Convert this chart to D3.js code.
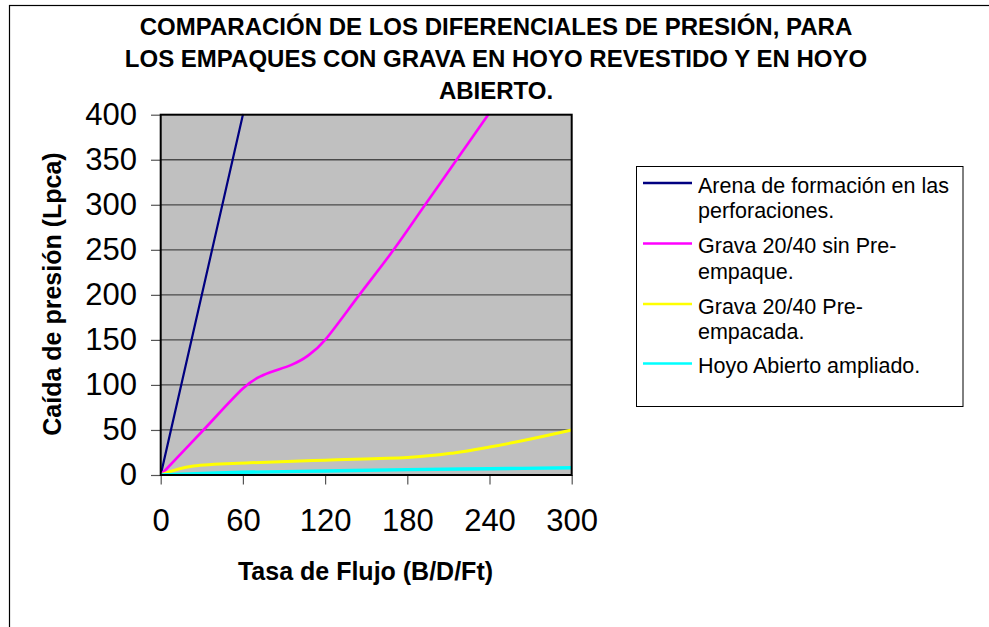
<!DOCTYPE html>
<html>
<head>
<meta charset="utf-8">
<script src="https://cdn.jsdelivr.net/npm/d3@7"></script>
<style>
  html, body { margin: 0; padding: 0; background: #fff; }
  svg { display: block; font-family: "Liberation Sans", Arial, sans-serif; }
</style>
</head>
<body>
<svg id="chart" width="989" height="627"></svg>
<script>
// Title lines
const titleLines = [
  "COMPARACIÓN DE LOS DIFERENCIALES DE PRESIÓN, PARA",
  "LOS EMPAQUES CON GRAVA EN HOYO REVESTIDO Y EN HOYO",
  "ABIERTO."
];

// Axis ticks and titles
const xTicks = [0, 60, 120, 180, 240, 300];
const yTicks = [0, 50, 100, 150, 200, 250, 300, 350, 400];
const xTitle = "Tasa de Flujo (B/D/Ft)";
const yTitle = "Caída de presión (Lpca)";

// Series (flow rate in B/D/Ft, pressure drop in Lpca)
const arenaX = [0, 60];
const arenaY = [0, 400];

const gravaSinX = [0, 30, 60, 75, 95, 107, 120, 145, 170, 193, 216, 239];
const gravaSinY = [0, 48, 96, 111, 122, 132, 150, 200, 250, 300, 350, 400];

const gravaPreX = [0, 24, 65, 120, 180, 214, 240, 270, 300];
const gravaPreY = [0, 10, 13.5, 16.5, 19.5, 24.5, 31, 40, 50];

const hoyoX = [0, 60, 120, 180, 240, 300];
const hoyoY = [0, 3, 4.5, 6, 7, 8];

const seriesNames = [
  ["Arena de formación en las", "perforaciones."],
  ["Grava 20/40 sin Pre-", "empaque."],
  ["Grava 20/40 Pre-", "empacada."],
  ["Hoyo Abierto ampliado."]
];
const seriesColors = ["#000080", "#FF00FF", "#FFFF00", "#00FFFF"];
const seriesWidths = [2.2, 2.6, 3, 3.4];

const series = [
  arenaX.map((x, i) => [x, arenaY[i]]),
  gravaSinX.map((x, i) => [x, gravaSinY[i]]),
  gravaPreX.map((x, i) => [x, gravaPreY[i]]),
  hoyoX.map((x, i) => [x, hoyoY[i]])
];

const svg = d3.select("#chart");

// Chart frame
svg.append("rect")
  .attr("x", 9.5).attr("y", 5.5)
  .attr("width", 1100).attr("height", 700)
  .attr("fill", "#fff").attr("stroke", "#000").attr("stroke-width", 1.2);

// Plot area
const plot = { left: 160.7, right: 571.7, top: 114.7, bottom: 475 };
const x = d3.scaleLinear().domain([0, 300]).range([plot.left, plot.right]);
const y = d3.scaleLinear().domain([0, 400]).range([plot.bottom, plot.top]);

svg.append("rect")
  .attr("x", plot.left).attr("y", plot.top)
  .attr("width", plot.right - plot.left).attr("height", plot.bottom - plot.top)
  .attr("fill", "#C0C0C0");

// Horizontal gridlines
svg.append("g").selectAll("line").data(yTicks.filter(d => d > 0 && d < 400)).join("line")
  .attr("x1", plot.left).attr("x2", plot.right)
  .attr("y1", d => y(d)).attr("y2", d => y(d))
  .attr("stroke", "#4a4a4a").attr("stroke-width", 1.3);

// Title
svg.append("text")
  .attr("text-anchor", "middle")
  .attr("font-weight", "bold").attr("font-size", 24)
  .selectAll("tspan").data(titleLines).join("tspan")
  .attr("x", 496).attr("y", (d, i) => 35 + i * 32)
  .text(d => d);

// Y axis
const yAxis = d3.axisLeft(y).tickValues(yTicks).tickSize(9.7).tickPadding(14);
const gy = svg.append("g").attr("transform", `translate(${plot.left},0)`).call(yAxis);
gy.select(".domain").remove();
gy.selectAll(".tick line").attr("stroke", "#555").attr("stroke-width", 1.2);
gy.selectAll(".tick text")
  .attr("font-size", 31).attr("fill", "#000")
  .attr("font-family", "'Liberation Sans', Arial, sans-serif");

// X axis
const xAxis = d3.axisBottom(x).tickValues(xTicks).tickSize(9.5).tickPadding(24);
const gx = svg.append("g").attr("transform", `translate(0,${plot.bottom})`).call(xAxis);
gx.select(".domain").remove();
gx.selectAll(".tick line").attr("stroke", "#555").attr("stroke-width", 1.2);
gx.selectAll(".tick text")
  .attr("font-size", 31).attr("fill", "#000")
  .attr("font-family", "'Liberation Sans', Arial, sans-serif");

// Axis titles
svg.append("text")
  .attr("x", 365.5).attr("y", 580)
  .attr("text-anchor", "middle")
  .attr("font-weight", "bold").attr("font-size", 25)
  .text(xTitle);

svg.append("text")
  .attr("transform", "translate(52,294) rotate(-90)")
  .attr("text-anchor", "middle").attr("dy", "0.35em")
  .attr("font-weight", "bold").attr("font-size", 25)
  .text(yTitle);

// Series lines
svg.append("clipPath").attr("id", "plotClip")
  .append("rect")
  .attr("x", plot.left).attr("y", plot.top - 1)
  .attr("width", plot.right - plot.left).attr("height", plot.bottom - plot.top + 2);

const line = d3.line()
  .x(d => x(d[0])).y(d => y(d[1]))
  .curve(d3.curveCardinal.tension(0));

svg.append("g").attr("clip-path", "url(#plotClip)")
  .selectAll("path").data(series).join("path")
  .attr("d", line)
  .attr("fill", "none")
  .attr("stroke", (d, i) => seriesColors[i])
  .attr("stroke-width", (d, i) => seriesWidths[i])
  .attr("stroke-linejoin", "round").attr("stroke-linecap", "round");

// Plot border
svg.append("rect")
  .attr("x", plot.left).attr("y", plot.top)
  .attr("width", plot.right - plot.left).attr("height", plot.bottom - plot.top)
  .attr("fill", "none").attr("stroke", "#000").attr("stroke-width", 2);

// Legend
const legend = svg.append("g");
legend.append("rect")
  .attr("x", 636.5).attr("y", 166.5).attr("width", 326.5).attr("height", 240)
  .attr("fill", "#fff").attr("stroke", "#000").attr("stroke-width", 1);

const rowStarts = [185, 245.5, 306, 365.5];
const rowGap = 25.5;
seriesNames.forEach((lines, i) => {
  const cy = rowStarts[i];
  legend.append("line")
    .attr("x1", 643).attr("x2", 692)
    .attr("y1", cy - 2).attr("y2", cy - 2)
    .attr("stroke", seriesColors[i]).attr("stroke-width", 2.5);
  legend.append("text")
    .attr("font-size", 21.5).attr("fill", "#000")
    .selectAll("tspan").data(lines).join("tspan")
    .attr("x", 698).attr("y", (d, j) => cy + j * rowGap + 7.5)
    .text(d => d);
});
</script>
</body>
</html>
